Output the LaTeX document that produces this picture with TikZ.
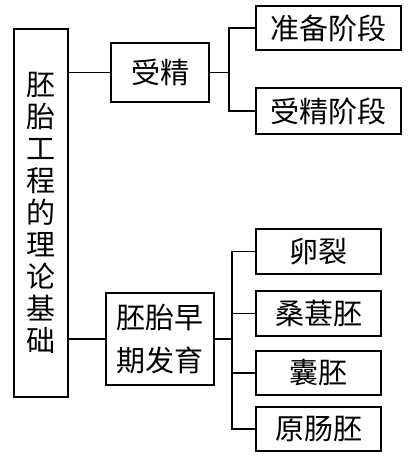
\documentclass[tikz,border=0pt]{standalone}
\usepackage{fontspec}
\newfontfamily\cjk{Noto Sans CJK SC}
\begin{document}
\begin{tikzpicture}[x=1pt,y=-1pt,
  box/.style={draw, line width=1.8pt, inner sep=0pt, align=center,
    font=\cjk\fontsize{29}{32}\selectfont},
  conn/.style={line width=1.8pt}]
\useasboundingbox (0,0) rectangle (410,458);
\node[box, minimum width=54pt, minimum height=368pt] (root) at (41,213)
  {胚\\胎\\工\\程\\的\\理\\论\\基\\础};
\node[box, minimum width=98pt, minimum height=59pt] (a) at (160,72.5) {受精};
\node[box, minimum width=145pt, minimum height=44pt] (a1) at (328.5,28) {准备阶段};
\node[box, minimum width=145pt, minimum height=46pt] (a2) at (328.5,111) {受精阶段};
\node[box, minimum width=108pt, minimum height=92pt,
  font=\cjk\fontsize{29}{43}\selectfont] (b) at (160,339) {胚胎早\\期发育};
\node[box, minimum width=125pt, minimum height=45pt] (b1) at (318.5,251.5) {卵裂};
\node[box, minimum width=125pt, minimum height=45pt] (b2) at (318.5,313.5) {桑葚胚};
\node[box, minimum width=125pt, minimum height=44pt] (b3) at (318.5,373) {囊胚};
\node[box, minimum width=125pt, minimum height=44pt] (b4) at (318.5,429) {原肠胚};
\coordinate (j1) at (229,72.5);
\coordinate (j2) at (232,339);
\draw[conn] (root.east |- a.west) -- (a.west);
\draw[conn] (root.east |- b.west) -- (b.west);
\draw[conn] (a.east) -- (j1);
\draw[conn] (a1.west) -| (j1);
\draw[conn] (a2.west) -| (j1);
\draw[conn] (b.east) -- (j2);
\draw[conn] (b1.west) -| (j2);
\draw[conn] (b2.west) -| (j2);
\draw[conn] (b3.west) -| (j2);
\draw[conn] (b4.west) -| (j2);
\end{tikzpicture}
\end{document}
